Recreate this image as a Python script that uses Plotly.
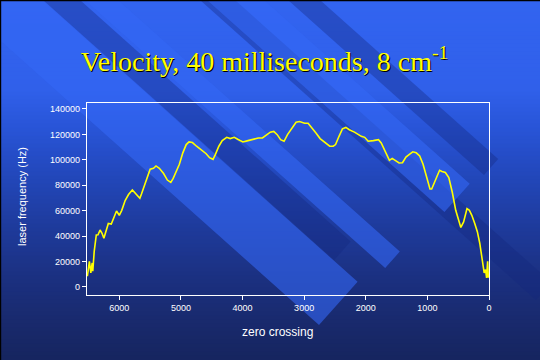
import plotly.graph_objects as go

# ---------------- data ----------------
zero_crossing = [6518, 6485, 6462, 6440, 6430, 6407, 6373, 6345, 6312, 6280, 6250, 6215,
                 6178, 6130, 6095, 6045, 6000, 5960, 5905, 5850, 5788, 5740, 5666, 5640,
                 5593, 5538, 5499, 5445, 5404, 5350, 5281, 5220, 5164, 5125, 5070, 5025,
                 4969, 4914, 4869, 4813, 4746, 4663, 4590, 4535, 4479, 4440, 4384, 4329,
                 4256, 4200, 4134, 4078, 3994, 3911, 3827, 3744, 3677, 3604, 3549, 3493,
                 3437, 3382, 3326, 3270, 3198, 3131, 3075, 2992, 2936, 2880, 2808, 2741,
                 2657, 2585, 2529, 2490, 2434, 2379, 2323, 2267, 2184, 2128, 2072, 2017,
                 1961, 1877, 1794, 1749, 1710, 1655, 1616, 1571, 1515, 1460, 1404, 1348,
                 1292, 1237, 1181, 1125, 1070, 1014, 958, 930, 875, 802, 763, 708, 652,
                 596, 540, 485, 457, 412, 357, 318, 279, 234, 189, 150, 123, 95, 78, 56,
                 39, 22, 11]
laser_frequency = [8500, 20200, 11100, 18900, 12400, 28000, 40900, 41000, 44800, 42200, 38300, 43500,
                   50000, 49500, 53800, 59800, 56400, 60300, 68000, 72700, 76300, 73700, 69800, 73100,
                   79700, 87400, 92600, 93400, 95200, 93400, 89200, 84100, 82300, 85400, 91300, 96500,
                   105500, 112000, 114100, 113600, 110700, 107400, 104800, 101700, 100400, 104300, 110700, 115100,
                   117700, 116700, 117700, 116200, 114100, 115100, 116400, 117200, 117200, 119800, 121800, 122400,
                   119800, 115900, 114600, 119800, 125000, 129600, 130100, 128800, 128800, 125000, 121100, 116700,
                   113300, 110700, 110700, 112000, 118500, 124400, 125500, 123700, 121800, 119800, 118500, 117700,
                   114600, 115100, 115900, 113300, 109400, 104300, 99600, 101100, 99100, 97500, 97700, 102200,
                   104300, 106300, 105500, 103000, 96500, 86100, 77100, 77100, 83600, 91800, 90800, 90000, 86100,
                   74500, 60300, 49900, 46800, 51200, 61600, 60300, 56400, 50400, 43500, 34400, 25400, 15000, 11100, 13700,
                   7200, 20200, 7200]

x_tick_values = [6000, 5000, 4000, 3000, 2000, 1000, 0]
y_tick_values = [0, 20000, 40000, 60000, 80000, 100000, 120000, 140000]

title_text = "Velocity, 40 milliseconds, 8 cm<sup>-1</sup>"
x_title = "zero crossing"
y_title = "laser frequency (Hz)"

# ---------------- layout geometry ----------------
W, H = 540, 360
PL, PR, PT, PB = 87, 489, 103, 295          # plot area in pixels
PW, PH = PR - PL, PB - PT


def px(x):
    return (x - PL) / PW


def py(y):
    return (PB - y) / PH


shapes = []

# background vertical gradient (drawn as thin slabs)
stops = [(0, (50, 100, 240)), (90, (48, 96, 234)), (130, (40, 84, 214)),
         (180, (34, 70, 184)), (230, (30, 58, 154)), (280, (27, 48, 128)),
         (320, (25, 42, 110)), (360, (22, 37, 95))]


def grad(y):
    for (y0, c0), (y1, c1) in zip(stops[:-1], stops[1:]):
        if y0 <= y <= y1:
            t = (y - y0) / (y1 - y0)
            return tuple(int(round(a + (b - a) * t)) for a, b in zip(c0, c1))
    return stops[-1][1]


step = 4
for y in range(0, H, step):
    c = grad(y + step / 2)
    shapes.append(dict(type="rect", xref="paper", yref="paper", layer="below",
                       x0=px(-5), x1=px(W + 5), y0=py(y + step + 0.6), y1=py(y - 0.2),
                       fillcolor="rgb(%d,%d,%d)" % c, line=dict(width=0)))

K = 1.12  # slope dx/dy of the diagonal bands


def band(x0a, x0b, ya, color):
    top = -80
    p1 = (x0a + K * top, top)
    p2 = (x0b + K * top, top)
    P = (x0a + K * ya, ya)
    t = (x0b - x0a) / (1 + K * K)
    Q = (P[0] + t, ya - K * t)
    pts = [p1, p2, Q, P]
    path = "M " + " L ".join("%.5f,%.5f" % (px(a), py(b)) for a, b in pts) + " Z"
    shapes.append(dict(type="path", xref="paper", yref="paper", layer="below",
                       path=path, fillcolor=color, line=dict(width=0)))


dark = "rgba(20,40,125,0.36)"
light = "rgba(52,104,245,0.60)"
band(43, 80, 260, dark)
band(200, 235, 300, dark)
band(288, 320, 175, dark)
band(-45, 42, 325, light)
band(85, 118, 268, light)
band(207, 264, 212, light)

# thin black edge at top / left like the reference
shapes.append(dict(type="rect", xref="paper", yref="paper", layer="above",
                   x0=px(0), x1=px(W), y0=py(1.2), y1=py(-1), fillcolor="black", line=dict(width=0)))
shapes.append(dict(type="rect", xref="paper", yref="paper", layer="above",
                   x0=px(-1), x1=px(1.2), y0=py(H), y1=py(0), fillcolor="black", line=dict(width=0)))

fig = go.Figure()
fig.add_trace(go.Scatter(x=zero_crossing, y=laser_frequency, mode="lines",
                         line=dict(color="#ffff00", width=1.6), hoverinfo="skip"))

tick_font = dict(family="Liberation Sans, Arial, sans-serif", size=9, color="white")

fig.update_layout(
    width=W, height=H,
    margin=dict(l=PL, r=W - PR, t=PT, b=H - PB, pad=0),
    paper_bgcolor="rgb(40,80,200)",
    plot_bgcolor="rgba(0,0,0,0)",
    showlegend=False,
    shapes=shapes,
    title=dict(text=title_text, x=264.5 / W, xanchor="center", xref="container",
               y=1 - 61 / H, yanchor="middle", yref="container",
               font=dict(family="Liberation Serif, Times New Roman, serif", size=28,
                         color="#ffff00", shadow="1px 1px 0px #000000")),
    xaxis=dict(range=[6524, 0], tickvals=x_tick_values, tickformat="d",
               showgrid=False, zeroline=False, showline=True, mirror=True,
               linecolor="white", linewidth=1.2, ticks="outside", ticklen=4,
               tickcolor="white", tickwidth=1, tickfont=tick_font),
    yaxis=dict(range=[-6300, 144700], tickvals=y_tick_values, tickformat="d",
               showgrid=False, zeroline=False, showline=True, mirror=True,
               linecolor="white", linewidth=1.2, ticks="outside", ticklen=4,
               tickcolor="white", tickwidth=1, tickfont=tick_font),
    annotations=[
        dict(text=x_title, xref="paper", yref="paper", x=px(277), y=py(332),
             showarrow=False, xanchor="center", yanchor="middle",
             font=dict(family="Liberation Sans, Arial, sans-serif", size=12, color="white")),
        dict(text=y_title, xref="paper", yref="paper", x=px(22), y=py(197),
             showarrow=False, xanchor="center", yanchor="middle", textangle=-90,
             font=dict(family="Liberation Sans, Arial, sans-serif", size=11, color="white")),
    ],
)

fig.write_html("out.html", config={"displayModeBar": False},
               post_script="document.body.style.margin='0';document.body.style.overflow='hidden';")
